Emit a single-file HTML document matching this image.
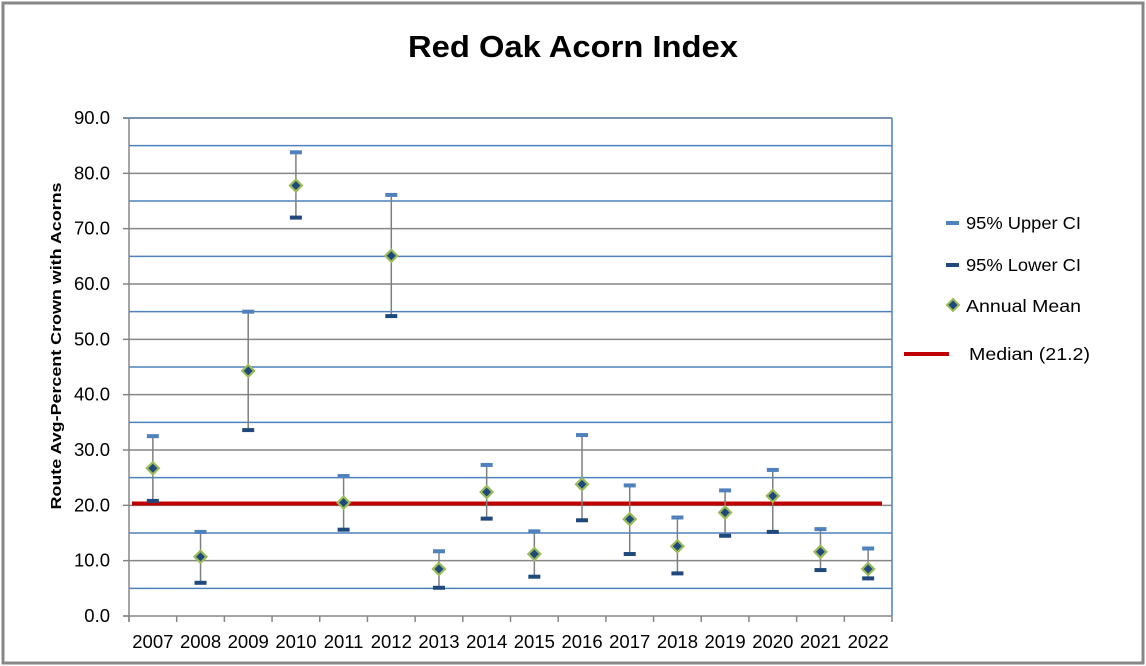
<!DOCTYPE html>
<html><head><meta charset="utf-8"><style>
html,body{margin:0;padding:0;background:#fff;}
svg{display:block;font-family:"Liberation Sans",sans-serif;}
</style></head><body>
<svg id="c" width="1146" height="666" xmlns="http://www.w3.org/2000/svg">
<rect x="3" y="3" width="1140" height="660" fill="#fff" stroke="#878787" stroke-width="3"/>
<text x="573" y="57" text-anchor="middle" font-size="31" font-weight="bold" fill="#000" textLength="330" lengthAdjust="spacingAndGlyphs">Red Oak Acorn Index</text>
<g id="g"></g>
<text transform="translate(61,346) rotate(-90)" text-anchor="middle" font-size="14.5" font-weight="bold" textLength="327" lengthAdjust="spacingAndGlyphs">Route Avg-Percent Crown with Acorns</text>
<rect x="946" y="221" width="13" height="4" fill="#4f81bd"/>
<text x="966" y="229" font-size="17.5" textLength="115" lengthAdjust="spacingAndGlyphs">95% Upper CI</text>
<rect x="946" y="263" width="13" height="4" fill="#1f497d"/>
<text x="966" y="271" font-size="17.5" textLength="115" lengthAdjust="spacingAndGlyphs">95% Lower CI</text>
<polygon points="953,299 959,305 953,311 947,305" fill="#1f497d" stroke="#9bbb59" stroke-width="2"/>
<text x="966" y="312" font-size="17.5" textLength="115" lengthAdjust="spacingAndGlyphs">Annual Mean</text>
<rect x="904" y="352" width="45" height="4" fill="#c00000"/>
<text x="969" y="360" font-size="17.5" textLength="121" lengthAdjust="spacingAndGlyphs">Median (21.2)</text>
</svg>
<script>
var g=document.getElementById('g'),s='';
function Y(v){return 616-v*5.5333;}
var L=129,R=892,W=(R-L)/16;
for(var v=5;v<=85;v+=10){s+='<line x1="'+L+'" x2="'+R+'" y1="'+Y(v)+'" y2="'+Y(v)+'" stroke="#4f81bd" stroke-width="1.5"/>';}
for(var v=10;v<=80;v+=10){s+='<line x1="'+L+'" x2="'+R+'" y1="'+Y(v)+'" y2="'+Y(v)+'" stroke="#868686" stroke-width="1.5"/>';}
s+='<line x1="'+(L-6)+'" x2="'+R+'" y1="'+Y(90)+'" y2="'+Y(90)+'" stroke="#4a6f9a" stroke-width="1.5"/>';
s+='<line x1="'+R+'" x2="'+R+'" y1="'+Y(90)+'" y2="616" stroke="#4f81bd" stroke-width="1.5"/>';
s+='<line x1="'+L+'" x2="'+L+'" y1="'+Y(90)+'" y2="622" stroke="#868686" stroke-width="1.5"/>';
s+='<line x1="'+(L-6)+'" x2="'+R+'" y1="616" y2="616" stroke="#868686" stroke-width="1.5"/>';
for(var v=0;v<=80;v+=10){s+='<line x1="'+(L-6)+'" x2="'+L+'" y1="'+Y(v)+'" y2="'+Y(v)+'" stroke="#868686" stroke-width="1.5"/>';}
for(var v=0;v<=90;v+=10){s+='<text x="110" y="'+(Y(v)+6)+'" text-anchor="end" font-size="18.5">'+v.toFixed(1)+'</text>';}
var d=[[32.5,20.8,26.7],[15.2,6.0,10.7],[55,33.6,44.3],[83.8,72,77.8],[25.3,15.6,20.5],[76.1,54.2,65.1],[11.7,5.1,8.5],[27.3,17.6,22.4],[15.3,7.1,11.2],[32.7,17.3,23.8],[23.6,11.2,17.5],[17.8,7.7,12.6],[22.7,14.5,18.7],[26.4,15.2,21.7],[15.7,8.3,11.6],[12.2,6.8,8.5]];
for(var i=0;i<=16;i++){var x=L+i*W;s+='<line x1="'+x+'" x2="'+x+'" y1="616" y2="622" stroke="#868686" stroke-width="1.5"/>';}
for(var i=0;i<16;i++){var x=L+(i+0.5)*W;s+='<text x="'+x+'" y="648" text-anchor="middle" font-size="18.5">'+(2007+i)+'</text>';}
s+='<line x1="132" x2="882" y1="503.5" y2="503.5" stroke="#c00000" stroke-width="4"/>';
for(var i=0;i<16;i++){var x=L+(i+0.5)*W,a=d[i];
s+='<line x1="'+x+'" x2="'+x+'" y1="'+Y(a[0])+'" y2="'+Y(a[1])+'" stroke="#7f7f7f" stroke-width="1.5"/>';
s+='<rect x="'+(x-6)+'" y="'+(Y(a[0])-2)+'" width="12" height="4" fill="#4f81bd"/>';
s+='<rect x="'+(x-6)+'" y="'+(Y(a[1])-2)+'" width="12" height="4" fill="#1f497d"/>';
var y=Y(a[2]);s+='<polygon points="'+x+','+(y-6)+' '+(x+6)+','+y+' '+x+','+(y+6)+' '+(x-6)+','+y+'" fill="#1f497d" stroke="#9bbb59" stroke-width="2.2"/>';}
g.innerHTML=s;
</script>
</body></html>
